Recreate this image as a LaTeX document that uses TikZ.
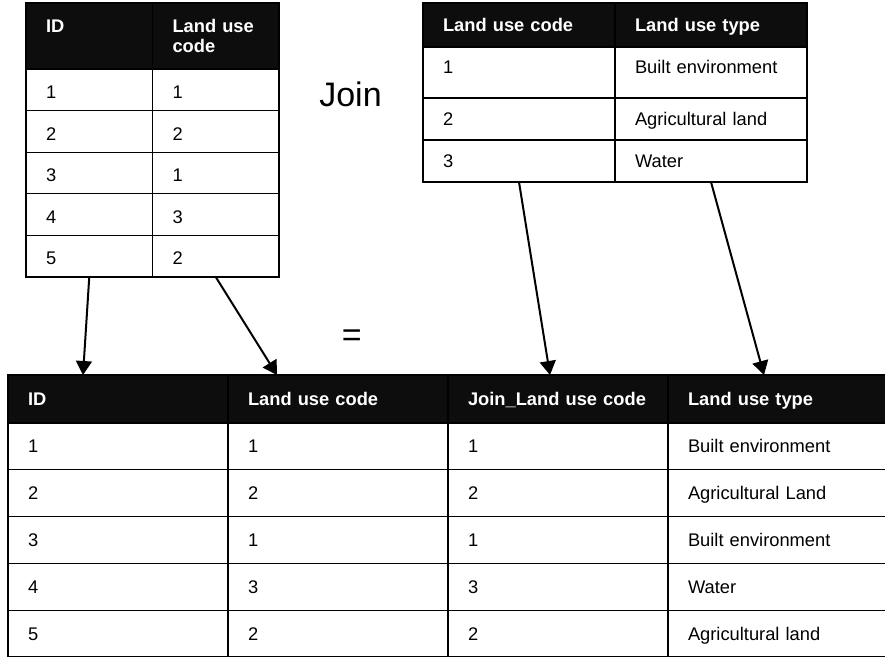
\documentclass[tikz,border=0pt]{standalone}
\usepackage{fontspec}
\setmainfont{Liberation Sans}
\usetikzlibrary{arrows.meta,positioning}
\definecolor{headblack}{HTML}{0D0D0D}
\tikzset{
    >={Triangle[length=14pt,width=16pt]}, % arrow tip used for all connectors
    }

\begin{document}
\begin{tikzpicture}[x=1pt, y=-1pt,
headnode/.style={draw=black, fill=headblack, text=white, line width=1.2pt, outer sep=0pt, inner xsep=20pt, inner ysep=0pt, align=left, font=\fontsize{18.3}{20.5}\selectfont\bfseries},
cellnode/.style={draw=black, fill=white, line width=1.2pt, outer sep=0pt, inner xsep=20pt, inner ysep=0pt, align=left, text height=15pt, text depth=2pt, font=\fontsize{18.3}{20.5}\selectfont},
acol/.style={text width=86.5pt},
bcol/.style={text width=152pt},
ccol/.style={text width=180pt},
arow/.style={minimum height=41.6pt, text height=19pt, text depth=1.5pt},
crow/.style={minimum height=46.8pt},
]
\useasboundingbox (0,0) rectangle (885,656);

% left table
\node[headnode, acol, minimum height=66pt, anchor=north west] (aidh) at (26,3) {ID\\\mbox{}};
\node[headnode, acol, minimum height=66pt] (acodeh) [right=0pt of aidh] {Land use\\code};
\node[cellnode, acol, arow] (aid1) [below=0pt of aidh] {1};
\node[cellnode, acol, arow] (aid2) [below=0pt of aid1] {2};
\node[cellnode, acol, arow] (aid3) [below=0pt of aid2] {3};
\node[cellnode, acol, arow] (aid4) [below=0pt of aid3] {4};
\node[cellnode, acol, arow] (aid5) [below=0pt of aid4] {5};
\node[cellnode, acol, arow] (acode1) [below=0pt of acodeh] {1};
\node[cellnode, acol, arow] (acode2) [below=0pt of acode1] {2};
\node[cellnode, acol, arow] (acode3) [below=0pt of acode2] {1};
\node[cellnode, acol, arow] (acode4) [below=0pt of acode3] {3};
\node[cellnode, acol, arow] (acode5) [below=0pt of acode4] {2};

% right table
\node[headnode, bcol, minimum height=44pt, text height=15pt, text depth=2pt, anchor=north west] (bcodeh) at (423,3) {Land use code};
\node[headnode, bcol, minimum height=44pt, text height=15pt, text depth=2pt] (btypeh) [right=0pt of bcodeh] {Land use type};
\node[cellnode, bcol, minimum height=51pt, text height=9pt, text depth=7pt] (bcode1) [below=0pt of bcodeh] {1};
\node[cellnode, bcol, minimum height=42pt] (bcode2) [below=0pt of bcode1] {2};
\node[cellnode, bcol, minimum height=42pt] (bcode3) [below=0pt of bcode2] {3};
\node[cellnode, bcol, minimum height=51pt, text height=9pt, text depth=7pt] (btype1) [below=0pt of btypeh] {Built environment};
\node[cellnode, bcol, minimum height=42pt] (btype2) [below=0pt of btype1] {Agricultural land};
\node[cellnode, bcol, minimum height=42pt] (btype3) [below=0pt of btype2] {Water};

\node[font=\fontsize{34}{40}\selectfont, inner sep=0pt] (join) at (350.5,94.7) {Join};
\node[font=\fontsize{34}{40}\selectfont, inner sep=0pt] (equals) at (351.7,338) {=};

% result table
\node[headnode, ccol, minimum height=48pt, text height=15pt, text depth=2pt, anchor=north west] (cidh) at (8,375) {ID};
\node[headnode, ccol, minimum height=48pt, text height=15pt, text depth=2pt] (ccodeh) [right=0pt of cidh] {Land use code};
\node[headnode, ccol, minimum height=48pt, text height=15pt, text depth=2pt] (cjoinh) [right=0pt of ccodeh] {Join\_Land use code};
\node[headnode, ccol, minimum height=48pt, text height=15pt, text depth=2pt] (ctypeh) [right=0pt of cjoinh] {Land use type};
\node[cellnode, ccol, crow] (cid1) [below=0pt of cidh] {1};
\node[cellnode, ccol, crow] (cid2) [below=0pt of cid1] {2};
\node[cellnode, ccol, crow] (cid3) [below=0pt of cid2] {3};
\node[cellnode, ccol, crow] (cid4) [below=0pt of cid3] {4};
\node[cellnode, ccol, crow] (cid5) [below=0pt of cid4] {5};
\node[cellnode, ccol, crow] (ccode1) [below=0pt of ccodeh] {1};
\node[cellnode, ccol, crow] (ccode2) [below=0pt of ccode1] {2};
\node[cellnode, ccol, crow] (ccode3) [below=0pt of ccode2] {1};
\node[cellnode, ccol, crow] (ccode4) [below=0pt of ccode3] {3};
\node[cellnode, ccol, crow] (ccode5) [below=0pt of ccode4] {2};
\node[cellnode, ccol, crow] (cjoin1) [below=0pt of cjoinh] {1};
\node[cellnode, ccol, crow] (cjoin2) [below=0pt of cjoin1] {2};
\node[cellnode, ccol, crow] (cjoin3) [below=0pt of cjoin2] {1};
\node[cellnode, ccol, crow] (cjoin4) [below=0pt of cjoin3] {3};
\node[cellnode, ccol, crow] (cjoin5) [below=0pt of cjoin4] {2};
\node[cellnode, ccol, crow] (ctype1) [below=0pt of ctypeh] {Built environment};
\node[cellnode, ccol, crow] (ctype2) [below=0pt of ctype1] {Agricultural Land};
\node[cellnode, ccol, crow] (ctype3) [below=0pt of ctype2] {Built environment};
\node[cellnode, ccol, crow] (ctype4) [below=0pt of ctype3] {Water};
\node[cellnode, ccol, crow] (ctype5) [below=0pt of ctype4] {Agricultural land};

\draw[line width=2pt,->] (aid5.south) -- ([xshift=75pt]cidh.north west);
\draw[line width=2pt,->] (acode5.south) -- ([xshift=49pt]ccodeh.north west);
\draw[line width=2pt,->] (bcode3.south) -- ([xshift=102pt]cjoinh.north west);
\draw[line width=2pt,->] (btype3.south) -- ([xshift=96pt]ctypeh.north west);
\end{tikzpicture}
\end{document}
